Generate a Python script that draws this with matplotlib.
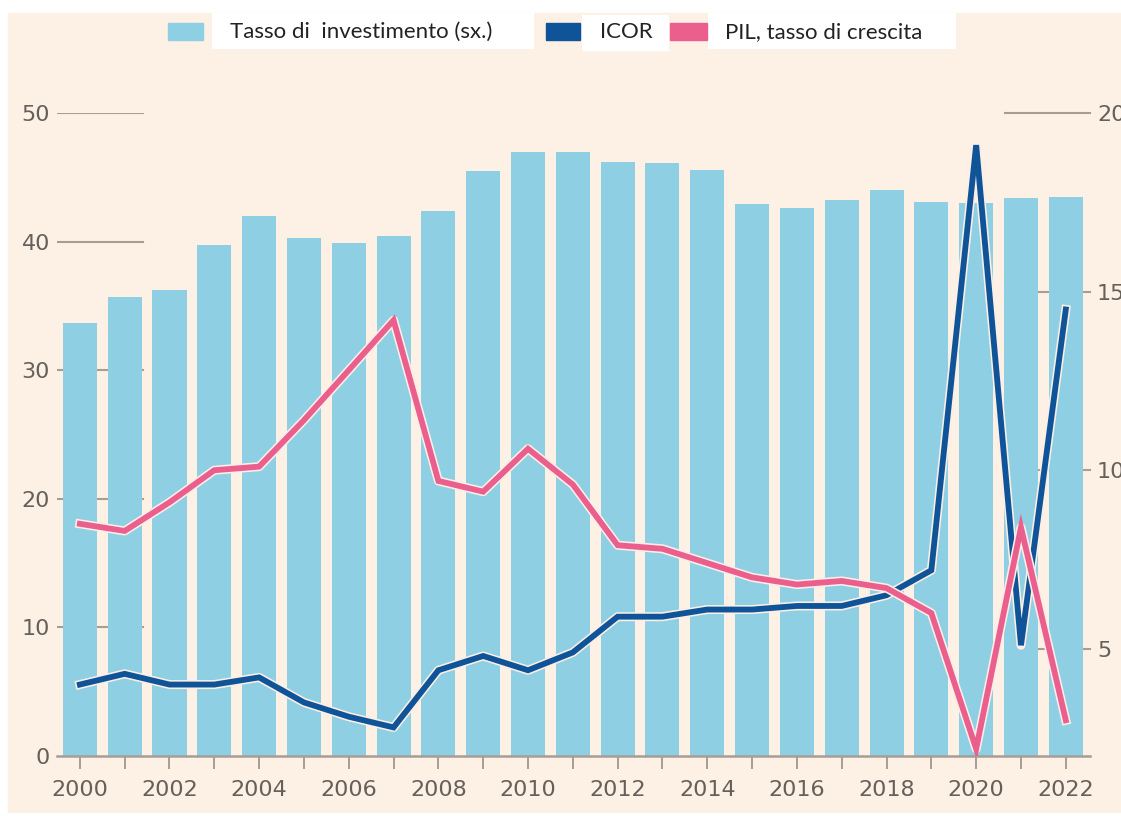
import matplotlib.pyplot as plt
import matplotlib.patheffects as pe
import matplotlib.transforms as mtransforms
from matplotlib.patches import Rectangle

# dati
anni = list(range(2000, 2023))
tasso_investimento = [33.7, 35.7, 36.2, 39.7, 42.0, 40.3, 39.9, 40.4, 42.4, 45.5, 47.0, 47.0,
                      46.2, 46.1, 45.6, 42.9, 42.6, 43.2, 44.0, 43.1, 43.0, 43.4, 43.5]
icor = [4.0, 4.3, 4.0, 4.0, 4.2, 3.5, 3.1, 2.8, 4.4, 4.8, 4.4, 4.9,
        5.9, 5.9, 6.1, 6.1, 6.2, 6.2, 6.5, 7.2, 19.1, 5.1, 14.5]
pil_crescita = [8.5, 8.3, 9.1, 10.0, 10.1, 11.4, 12.8, 14.2, 9.7, 9.4, 10.6, 9.6,
                7.9, 7.8, 7.4, 7.0, 6.8, 6.9, 6.7, 6.0, 2.2, 8.4, 3.0]
etichette_anni = [str(a) if a % 2 == 0 else '' for a in anni]
tick_sx = [0, 10, 20, 30, 40, 50]
tick_dx = [5, 10, 15, 20]

SFONDO = '#fdf0e5'
AZZURRO = '#8fcfe3'
BLU = '#0f5499'
ROSA = '#ea5f8e'
GRIGIO = '#66605b'
GRIGIO_LINEA = '#a89d94'

W, H = 1121, 816
fig = plt.figure(figsize=(W / 100, H / 100), dpi=100, facecolor='white')

def fx(px):
    return px / W

def fy(py):
    return 1 - py / H

# sfondo color salmone
fig.patches.append(Rectangle((fx(8), fy(812)), fx(W - 8), fy(13) - fy(812),
                             transform=fig.transFigure, color=SFONDO, zorder=-5))

ax = fig.add_axes([fx(57), fy(756), fx(1090) - fx(57), fy(113) - fy(756)])
ax.set_facecolor('none')
ax2 = ax.twinx()
ax2.set_facecolor('none')

ax.bar(anni, tasso_investimento, width=0.76, color=AZZURRO, zorder=2)
ax.set_xlim(1999.49, 2022.54)
ax.set_ylim(0, 50)
ax2.set_ylim(2, 20)

# linee di griglia corte ai lati, dietro le barre
for v in tick_sx[1:]:
    ax.axhline(v, xmin=0, xmax=0.083, color=GRIGIO_LINEA, lw=1.5, zorder=1)
trans_dx = mtransforms.blended_transform_factory(ax.transAxes, ax2.transData)
for v in tick_dx:
    ax.plot([0.918, 1], [v, v], transform=trans_dx, color=GRIGIO_LINEA, lw=1.5,
            zorder=1, clip_on=False)

alone = [pe.Stroke(linewidth=6.5, foreground='#fbefe6', joinstyle='round'), pe.Normal()]
ax2.plot(anni, icor, color=BLU, lw=4.2, solid_joinstyle='miter', path_effects=alone, zorder=3)
ax2.plot(anni, pil_crescita, color=ROSA, lw=4.2, solid_joinstyle='miter', path_effects=alone, zorder=4)

for a in (ax, ax2):
    for s in ['top', 'left', 'right', 'bottom']:
        a.spines[s].set_visible(False)
ax.spines['bottom'].set_visible(True)
ax.spines['bottom'].set_color(GRIGIO_LINEA)
ax.spines['bottom'].set_linewidth(1.8)
ax.spines['bottom'].set_zorder(5)

ax.set_xticks(anni)
ax.set_xticklabels(etichette_anni)
ax.tick_params(axis='x', length=9, width=1.4, color=GRIGIO_LINEA, pad=8,
               labelsize=16, labelcolor=GRIGIO)
ax.set_yticks(tick_sx)
ax.tick_params(axis='y', length=0, pad=5, labelsize=16, labelcolor=GRIGIO)
ax2.set_yticks(tick_dx)
ax2.tick_params(axis='y', length=0, pad=5, labelsize=16, labelcolor=GRIGIO)

# legenda ricostruita con riquadri bianchi
font_leg = ['Liberation Sans Narrow', 'Lato', 'DejaVu Sans']
voci = [
    ((168, 203), AZZURRO, (212, 533, 13, 48), 230, 'Tasso di  investimento (sx.)'),
    ((546, 580), BLU, (582, 668, 15, 50), 600, 'ICOR'),
    ((670, 707), ROSA, (708, 955, 13, 48), 725, 'PIL, tasso di crescita'),
]
for (p0, p1), col, (b0, b1, t, b), xt, testo in voci:
    fig.patches.append(Rectangle((fx(b0), fy(b)), fx(b1 - b0), fy(t) - fy(b),
                                 transform=fig.transFigure, color='white', zorder=1))
    fig.patches.append(Rectangle((fx(p0), fy(40)), fx(p1 - p0), fy(23) - fy(40),
                                 transform=fig.transFigure, color=col, zorder=2))
    fig.text(fx(xt), fy(32), testo, family=font_leg, fontsize=16, color='#222222',
             va='center', ha='left', zorder=3)

fig.savefig('out.png', dpi=100, facecolor=fig.get_facecolor())
